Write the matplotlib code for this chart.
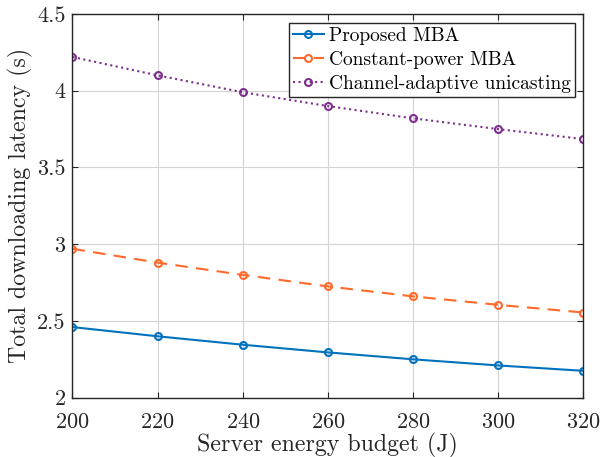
import numpy as np
import matplotlib
matplotlib.use("Agg")
import matplotlib.pyplot as plt
from matplotlib.ticker import FuncFormatter

# energy budget (J)
budget = [200, 220, 240, 260, 280, 300, 320]
# total downloading latency (s)
proposed_mba = [2.46, 2.40, 2.345, 2.295, 2.25, 2.21, 2.175]
const_power_mba = [2.97, 2.88, 2.80, 2.725, 2.66, 2.605, 2.555]
unicasting = [4.22, 4.10, 3.99, 3.90, 3.82, 3.75, 3.685]

plt.rcParams['font.family'] = 'cmr10'
plt.rcParams['mathtext.fontset'] = 'cm'
plt.rcParams['axes.formatter.use_mathtext'] = True

fig = plt.figure(figsize=(6.02, 4.57), dpi=100)
ax = fig.add_axes([0.1204, 0.1298, 0.8485, 0.8396])

ax.plot(budget, proposed_mba, '-o', color='#0072BD', lw=1.5, ms=5,
        mfc='none', mew=1.5, label='Proposed MBA')
ax.plot(budget, const_power_mba, '--o', color='#FF6929', lw=1.5, ms=5,
        mfc='none', mew=1.5, dashes=(6, 4), label='Constant-power MBA')
ax.plot(budget, unicasting, ':o', color='#7E2F8E', lw=1.5, ms=5,
        mfc='none', mew=1.5, label='Channel-adaptive unicasting')

ax.set_xlim(200, 320)
ax.set_ylim(2, 4.5)
ax.set_xticks(budget)
ax.set_yticks([2, 2.5, 3, 3.5, 4, 4.5])
ax.yaxis.set_major_formatter(FuncFormatter(lambda v, p: '%g' % v))
ax.grid(True, color='#d4d4d4', lw=0.8)
ax.set_axisbelow(True)
ax.tick_params(direction='in', length=4.5, top=True, right=True,
               labelsize=16, color='#262626', labelcolor='#262626')
ax.tick_params(axis='x', pad=11)
ax.tick_params(axis='y', pad=5)
for s in ax.spines.values():
    s.set_color('#262626')
    s.set_linewidth(1.0)

ax.set_xlabel('Server energy budget (J)', fontsize=17.2, color='#262626', labelpad=0)
ax.set_ylabel('Total downloading latency (s)', fontsize=17.2, color='#262626', labelpad=3)

leg = ax.legend(loc='upper right', fontsize=14, handlelength=1.6,
                handletextpad=0.25, borderpad=0.2, labelspacing=0.32,
                borderaxespad=0.45, fancybox=False, framealpha=1)
leg.get_frame().set_edgecolor('#262626')
leg.get_frame().set_linewidth(1.0)

fig.savefig('out.png', dpi=100)
